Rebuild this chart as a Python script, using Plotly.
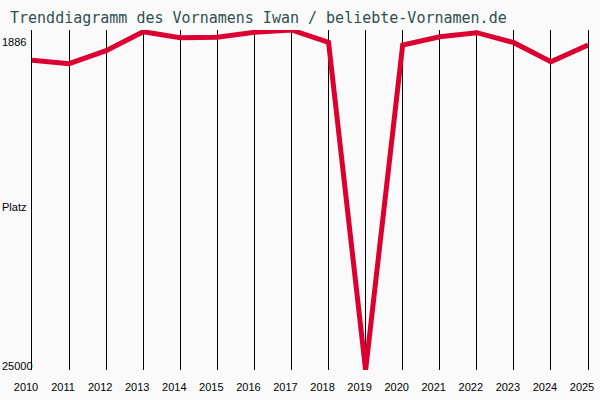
import plotly.graph_objects as go

# Platzierung des Vornamens Iwan pro Jahr (25000 = nicht in der Liste)
years = list(range(2010, 2026))
ranks = [3946, 4177, 3293, 2002, 2409, 2382, 2042, 1886, 2722, 25000,
         2906, 2341, 2070, 2749, 4041, 2906]

rank_best = 1886
rank_worst = 25000
y_labels = ["1886", "Platz", "25000"]

title = "Trenddiagramm des Vornamens Iwan / beliebte-Vornamen.de"
bg = "#fafafa"

fig = go.Figure(
    data=go.Scatter(x=years, y=ranks, mode="lines",
                    line=dict(color="#dc0030", width=5), hoverinfo="x+y"),
    layout=go.Layout(
        width=600, height=400,
        paper_bgcolor=bg, plot_bgcolor=bg,
        margin=dict(l=32, r=12, t=30, b=30),
        showlegend=False,
        title=dict(text=title, x=10 / 600, xanchor="left", y=1 - 18 / 400, yanchor="middle",
                   font=dict(family="DejaVu Sans Mono", size=15, color="#2f4f4f")),
        xaxis=dict(range=[2010, 2025], dtick=1, tick0=2010, showgrid=True, gridcolor="black",
                   gridwidth=1, zeroline=False, showline=False, ticks="", automargin=False,
                   ticklabelshift=-6, ticklabelstandoff=9,
                   tickfont=dict(family="Liberation Sans", size=11, color="black")),
        yaxis=dict(range=[rank_worst, rank_best], showgrid=False, zeroline=False,
                   showticklabels=False, ticks="", showline=True, mirror=True,
                   automargin=False, linecolor="black", linewidth=1),
    ),
)

# Beschriftung der y-Achse links am Rand
for text, ypos, shift in zip(y_labels, [1, 0.5, 0], [-12, -7, 4]):
    fig.add_annotation(text=text, xref="paper", yref="paper", x=0, y=ypos,
                       xanchor="left", yanchor="middle", xshift=-32, yshift=shift,
                       showarrow=False,
                       font=dict(family="Liberation Sans", size=11, color="black"))

# Seitenrand des Browsers entfernen, damit das Bild bei 0,0 beginnt
fig.write_html("out.html", config={"displayModeBar": False},
               post_script="document.body.style.margin='0px';"
                           "document.body.style.overflow='hidden';")
